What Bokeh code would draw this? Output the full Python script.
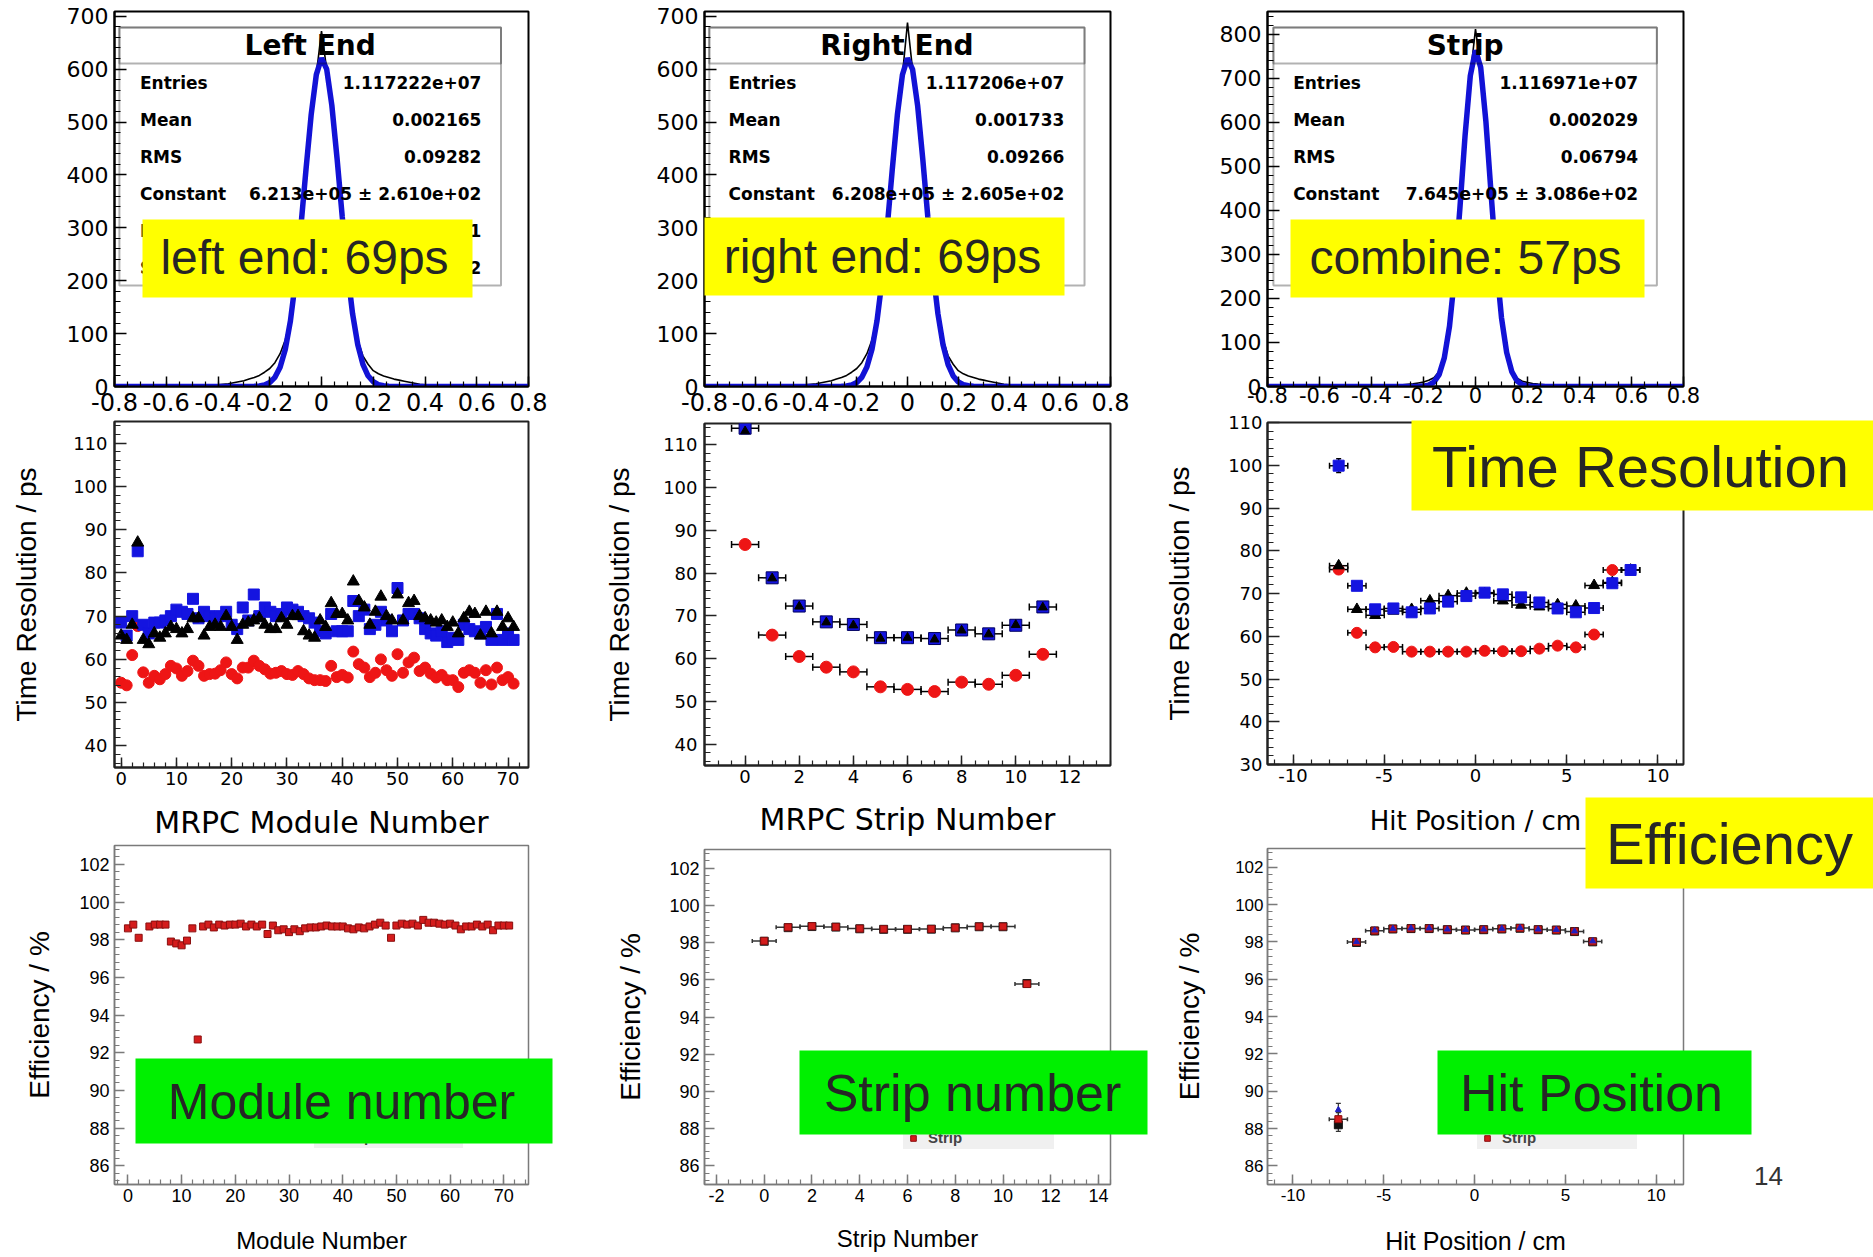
import numpy as np
from bokeh.plotting import figure
from bokeh.models import (Range1d, FixedTicker, SingleIntervalTicker, BoxAnnotation, Label,
                          ColumnDataSource, Whisker, TeeHead, Legend, LegendItem, GridBox)
from bokeh.layouts import row, column
from bokeh.embed import file_html
from bokeh.resources import INLINE

# ------------------------------------------------------------------ data
bin_centers = [round(-0.40 + 0.02 * i, 2) for i in range(41)]   # histogram bin centres (ns)

left_hist = [3, 4, 5, 7, 9, 11, 14, 17, 21, 27, 34, 45, 62, 88, 128, 200, 297, 408, 512, 590,
             672,
             600, 530, 430, 320, 220, 140, 88, 58, 42, 30, 24, 20, 17, 14, 12, 10, 8, 6, 4, 3]
left_fit = [0, 0, 0, 0, 0, 0, 0, 0.4, 1.1, 3.0, 7.5, 17.3, 36.4, 70.1, 124.3, 201.7, 300.3, 410, 513.4, 589.6,
            621,
            600, 531.5, 431.8, 321.8, 220, 137.9, 79.3, 41.8, 20.2, 8.9, 3.6, 1.4, 0.5, 0, 0, 0, 0, 0, 0, 0]
right_hist = [3, 4, 5, 7, 9, 11, 14, 17, 21, 27, 34, 45, 62, 88, 129, 201, 298, 409, 512, 589,
              688,
              599, 529, 429, 319, 219, 139, 89, 58, 42, 30, 24, 20, 17, 14, 12, 10, 8, 6, 4, 3]
right_fit = [0, 0, 0, 0, 0, 0, 0, 0.4, 1.1, 3.0, 7.6, 17.5, 36.7, 70.5, 124.8, 202.2, 300.8, 410.3, 513.5, 589.4,
             620.7,
             599.5, 530.8, 431, 321, 219.3, 137.3, 78.9, 41.5, 20, 8.8, 3.5, 1.4, 0.5, 0, 0, 0, 0, 0, 0, 0]
strip_hist = [1, 1, 1.5, 2, 2.5, 3, 4, 5, 6, 8, 10, 14, 20, 34, 70, 140, 254, 406, 572, 707,
              812,
              726, 603, 439, 282, 158, 80, 37, 19, 12, 9, 7, 5.5, 4.5, 3.5, 3, 2.5, 2, 1.5, 1, 1]
strip_fit = [0, 0, 0, 0, 0, 0, 0, 0, 0, 0, 0.9, 3.2, 10, 27, 65, 137, 252, 405, 571, 706,
             764,
             725, 602, 438, 280, 156, 77, 33, 12.4, 4, 1.2, 0.3, 0, 0, 0, 0, 0, 0, 0, 0, 0]

stat_titles = ["Left End", "Right End", "Strip"]
stat_names = ["Entries", "Mean", "RMS", "Constant", "Mean", "Sigma"]
stat_values = [
    ["1.117222e+07", "0.002165", "0.09282", "6.213e+05 \u00b1 2.610e+02", "0.001734 \u00b1 0.000021", "0.06612 \u00b1 0.00002"],
    ["1.117206e+07", "0.001733", "0.09266", "6.208e+05 \u00b1 2.605e+02", "0.001612 \u00b1 0.000021", "0.06598 \u00b1 0.00002"],
    ["1.116971e+07", "0.002029", "0.06794", "7.645e+05 \u00b1 3.086e+02", "0.001958 \u00b1 0.000017", "0.05521 \u00b1 0.00001"],
]

module_idx = list(range(72))
mod_t_red = [54.6, 54.0, 61.0, 67.7, 57.0, 54.6, 56.2, 55.4, 56.6, 58.5,
             57.9, 56.2, 57.3, 59.7, 58.5, 56.2, 56.6, 56.7, 57.5, 59.3,
             56.6, 55.6, 58.1, 58.1, 59.7, 58.5, 57.7, 56.7, 56.9, 57.3,
             56.6, 56.4, 57.3, 56.6, 55.6, 55.2, 55.2, 55.0, 58.5, 55.9,
             56.4, 55.8, 61.8, 58.9, 58.1, 55.9, 56.9, 60.0, 57.5, 56.2,
             61.2, 56.9, 59.3, 60.4, 57.3, 58.1, 56.7, 55.8, 56.4, 55.2,
             55.2, 53.6, 56.9, 57.5, 56.9, 54.6, 57.5, 54.2, 58.1, 55.2,
             55.9, 54.4]
mod_t_blue = [68.5, 65.5, 70.0, 85.0, 68.0, 66.0, 68.5, 68.5, 69.0, 70.0,
              71.5, 71.0, 70.5, 74.0, 69.5, 71.0, 70.0, 69.5, 70.0, 71.0,
              68.0, 67.0, 72.0, 69.0, 75.0, 70.0, 72.0, 71.0, 70.0, 70.5,
              72.0, 71.5, 71.0, 70.0, 69.5, 68.5, 66.5, 66.0, 70.5, 66.5,
              66.5, 66.5, 73.5, 70.0, 71.5, 67.0, 68.0, 71.0, 69.0, 66.5,
              76.5, 69.0, 70.5, 70.5, 69.5, 67.0, 66.0, 65.5, 66.5, 64.0,
              65.0, 64.5, 68.0, 67.0, 66.5, 66.0, 67.5, 64.5, 70.5, 64.5,
              66.0, 64.5]
mod_t_black = [65.5, 64.5, 68.0, 87.0, 64.5, 63.5, 66.0, 65.0, 66.0, 67.5,
               67.0, 66.0, 67.0, 69.5, 69.5, 65.5, 67.5, 68.0, 67.5, 70.0,
               67.5, 64.5, 68.0, 68.5, 69.0, 69.5, 68.0, 67.0, 67.0, 69.5,
               68.0, 70.0, 70.0, 66.5, 65.5, 65.0, 69.0, 67.5, 73.0, 70.5,
               70.5, 69.0, 78.0, 73.5, 72.0, 68.0, 71.0, 74.5, 70.0, 69.0,
               75.0, 69.0, 73.0, 73.5, 70.0, 69.5, 69.0, 68.5, 69.0, 67.5,
               68.5, 66.0, 69.5, 71.0, 70.5, 65.5, 71.0, 66.0, 71.0, 67.5,
               69.5, 67.5]

strip_idx = list(range(12))
strip_t_blue = [113.9, 78.9, 72.3, 68.6, 68.0, 64.9, 64.9, 64.7, 66.7, 65.8, 67.8, 72.1]
strip_t_black = [113.2, 78.8, 72.2, 68.5, 67.8, 64.7, 64.9, 64.5, 66.6, 65.7, 67.9, 72.0]
strip_t_red = [86.7, 65.5, 60.5, 58.0, 56.9, 53.4, 52.8, 52.3, 54.5, 54.0, 56.1, 61.0]

hit_pos = [-7.5, -6.5, -5.5, -4.5, -3.5, -2.5, -1.5, -0.5, 0.5, 1.5, 2.5, 3.5, 4.5, 5.5, 6.5, 7.5, 8.5]
hit_t_blue = [99.9, 71.8, 66.3, 66.5, 65.6, 66.5, 68.1, 69.4, 70.2, 69.8, 69.1, 67.9, 66.5, 65.6, 66.6, 72.4, 75.5]
hit_t_blue_err = [1.6, 0.6, 0.5, 0.5, 0.5, 0.5, 0.5, 0.5, 0.5, 0.5, 0.5, 0.5, 0.5, 0.5, 0.5, 0.6, 0.7]
hit_t_black = [76.5, 66.3, 64.9, 65.9, 66.3, 68.3, 69.5, 70.1, 70.0, 68.3, 67.3, 66.9, 67.4, 67.1, 71.9, 72.6, 75.5]
hit_t_red = [75.6, 60.8, 57.4, 57.5, 56.4, 56.4, 56.4, 56.4, 56.6, 56.5, 56.5, 57.1, 57.8, 57.4, 60.4, 75.5]

nan = float("nan")
mod_eff = [98.6, 98.8, 98.1, nan, 98.7, 98.8, 98.8, 98.8, 97.9, 97.8,
           97.7, 97.95, 98.6, 92.7, 98.7, 98.8, 98.65, 98.8, 98.75, 98.8,
           98.8, 98.85, 98.7, 98.8, 98.7, 98.8, 98.3, 98.75, 98.5, 98.55,
           98.4, 98.55, 98.45, 98.6, 98.65, 98.65, 98.7, 98.75, 98.7, 98.7,
           98.7, 98.6, 98.55, 98.65, 98.6, 98.7, 98.8, 98.9, 98.75, 98.1,
           98.75, 98.85, 98.8, 98.85, 98.75, 99.05, 98.9, 98.9, 98.85, 98.8,
           98.85, 98.75, 98.55, 98.7, 98.7, 98.8, 98.7, 98.8, 98.5, 98.75,
           98.75, 98.75]
strip_eff = [98.09, 98.82, 98.88, 98.84, 98.75, 98.72, 98.72, 98.73, 98.80, 98.86, 98.86, 95.77]
strip_eff_left = [98.07, 98.80, 98.86, 98.83, 98.74, 98.71, 98.71, 98.72, 98.79, 98.85, 98.85, 95.80]

hit_eff_pos = [-7.5, -6.5, -5.5, -4.5, -3.5, -2.5, -1.5, -0.5, 0.5, 1.5, 2.5, 3.5, 4.5, 5.5, 6.5]
hit_eff_strip = [88.5, 97.99, 98.60, 98.70, 98.72, 98.72, 98.66, 98.64, 98.66, 98.70, 98.74, 98.66, 98.64, 98.56, 98.02]
hit_eff_left = [88.2, 97.97, 98.58, 98.69, 98.71, 98.71, 98.65, 98.63, 98.65, 98.69, 98.73, 98.65, 98.63, 98.55, 98.00]
hit_eff_right = [89.0, 98.00, 98.62, 98.71, 98.73, 98.73, 98.67, 98.65, 98.67, 98.71, 98.75, 98.67, 98.65, 98.57, 98.04]
hit_eff_err = [0.35, 0.05, 0.05, 0.05, 0.05, 0.05, 0.05, 0.05, 0.05, 0.05, 0.05, 0.05, 0.05, 0.05, 0.05]

# slide call-out labels (text, colour, box left/right/top/bottom, text centre, size) in page pixels
callouts = [
    ("left end: 69ps", "#ffff00", (142, 472, 219, 297), (304, 257), "48px"),
    ("right end: 69ps", "#ffff00", (704, 1064, 217, 295), (882, 256), "48px"),
    ("combine: 57ps", "#ffff00", (1290, 1644, 219, 297), (1465, 257), "48px"),
    ("Time Resolution", "#ffff00", (1411, 1880, 420, 510), (1640, 466), "58px"),
    ("Efficiency", "#ffff00", (1585, 1880, 797, 888), (1729, 843), "58px"),
    ("Module number", "#00f000", (135, 552, 1058, 1143), (341, 1101), "50px"),
    ("Strip number", "#00f000", (799, 1147, 1050, 1134), (972, 1092), "52px"),
    ("Hit Position", "#00f000", (1437, 1751, 1050, 1134), (1591, 1092), "52px"),
]

# ------------------------------------------------------------------ styling constants
WIDE = "DejaVu Sans"
ARIAL = "Liberation Sans"
NARROW = "'Liberation Sans Narrow', 'Arial Narrow', 'Liberation Sans'"
BLUE = "#1414e0"
RED = "#ee1515"
LABEL_TXT = "#262626"
GREY = "#7a7a7a"


class G:
    """page geometry of one panel: canvas offset/size, frame edges (page px) and data ranges"""
    def __init__(self, ox, oy, W, H, fl, fr, ft, fb, xr, yr):
        self.ox, self.oy, self.W, self.H = ox, oy, W, H
        self.fl, self.fr, self.ft, self.fb = fl, fr, ft, fb
        self.xr, self.yr = xr, yr

    def x(self, px):
        return self.xr[0] + (px - self.fl) / (self.fr - self.fl) * (self.xr[1] - self.xr[0])

    def y(self, py):
        return self.yr[1] - (py - self.ft) / (self.fb - self.ft) * (self.yr[1] - self.yr[0])


def mkfig(g):
    p = figure(width=g.W, height=g.H, x_range=Range1d(*g.xr), y_range=Range1d(*g.yr),
               min_border_left=int(round(g.fl - g.ox)), min_border_right=int(round(g.ox + g.W - g.fr)),
               min_border_top=int(round(g.ft - g.oy)), min_border_bottom=int(round(g.oy + g.H - g.fb)),
               output_backend="svg", toolbar_location=None,
               background_fill_color="white", border_fill_color="white")
    p.xgrid.visible = False
    p.ygrid.visible = False
    return p


def style(p, tick_font, tick_size, color, olw, xt, yt, xs1, ys1):
    p.outline_line_color = color
    p.outline_line_width = olw
    p.outline_line_alpha = 1
    for ax, (mj, mn), s1 in ((p.xaxis[0], xt, xs1), (p.yaxis[0], yt, ys1)):
        ax.axis_line_color = color
        ax.axis_line_width = olw
        ax.major_tick_line_color = color
        ax.minor_tick_line_color = color
        ax.major_tick_line_width = 1.5
        ax.minor_tick_line_width = 1.2
        ax.major_tick_in = mj
        ax.major_tick_out = 0
        ax.minor_tick_in = mn
        ax.minor_tick_out = 0
        ax.major_label_text_font = tick_font
        ax.major_label_text_font_size = tick_size
        ax.major_label_text_color = "black"
        ax.major_label_standoff = s1
        ax.axis_label_text_font_style = "normal"
        ax.axis_label_text_color = "black"


def set_title(ax, text, font, size, standoff):
    ax.axis_label = text
    ax.axis_label_text_font = font
    ax.axis_label_text_font_size = size
    ax.axis_label_standoff = standoff


# ------------------------------------------------------------------ top row: time difference histograms
top_geo = [
    G(0, 0, 575, 420, 113, 535, 11, 386, (-0.8, 0.8), (0, 709)),
    G(575, 0, 580, 420, 689, 1111, 11, 386, (-0.8, 0.8), (0, 709)),
    G(1155, 0, 718, 410, 1264, 1686, 11, 386, (-0.8, 0.8), (0, 852)),
]
top_stat_box = [(118, 507), (694, 1084), (1270, 1659)]
top_stat_txt = [(139, 487), (714, 1063), (1290, 1640)]
hists = [left_hist, right_hist, strip_hist]
fits = [left_fit, right_fit, strip_fit]
top_xs1 = [6, 6, 0]
top_xfont = ["24px", "24px", "21px"]

x_major = [-0.8, -0.6, -0.4, -0.2, 0, 0.2, 0.4, 0.6, 0.8]
x_minor = [round(-0.8 + 0.05 * i, 2) for i in range(33)]

top_figs = []
for i in range(3):
    g = top_geo[i]
    p = mkfig(g)
    xs = [-0.8] + bin_centers + [0.8]
    p.line(xs, [0] + hists[i] + [0], line_color="black", line_width=1.6)
    p.line(xs, [0] + fits[i] + [0], line_color="#1212d6", line_width=5.5)
    style(p, WIDE, top_xfont[i], "black", 2, (10, 5), (12, 6), top_xs1[i], 6)
    p.xaxis[0].ticker = FixedTicker(ticks=x_major, minor_ticks=x_minor)
    p.xaxis[0].major_label_overrides = {t: ("%g" % t) for t in x_major}
    p.yaxis[0].ticker = SingleIntervalTicker(interval=100, num_minor_ticks=5)
    p.yaxis[0].major_label_text_font_size = "22px"
    # stat box
    bl, br = top_stat_box[i]
    p.add_layout(BoxAnnotation(left=g.x(bl), right=g.x(br), top=g.y(27), bottom=g.y(285),
                               fill_alpha=0, line_color="black", line_width=2))
    p.add_layout(BoxAnnotation(left=g.x(bl), right=g.x(br), top=g.y(27), bottom=g.y(63),
                               fill_alpha=0, line_color="black", line_width=2))
    p.add_layout(Label(x=g.x((bl + br) / 2), y=g.y(45), text=stat_titles[i], text_align="center",
                       text_baseline="middle", text_font=WIDE, text_font_style="bold",
                       text_font_size="28px", text_color="black"))
    lx, rx = top_stat_txt[i]
    for k, yy in enumerate([82, 119, 156, 193, 230, 267]):
        p.add_layout(Label(x=g.x(lx), y=g.y(yy), text=stat_names[k], text_align="left",
                           text_baseline="middle", text_font=WIDE, text_font_style="bold",
                           text_font_size="17px", text_color="black"))
        p.add_layout(Label(x=g.x(rx), y=g.y(yy), text=stat_values[i][k], text_align="right",
                           text_baseline="middle", text_font=WIDE, text_font_style="bold",
                           text_font_size="17px", text_color="black"))
    top_figs.append(p)

# ------------------------------------------------------------------ middle row: time resolution
def hwhisk(p, xs, ys, color="black", head=7, width=1.5):
    src = ColumnDataSource(dict(y=ys, lo=[v - 0.5 for v in xs], hi=[v + 0.5 for v in xs]))
    p.add_layout(Whisker(source=src, base="y", lower="lo", upper="hi", dimension="width",
                         line_color=color, line_width=width,
                         upper_head=TeeHead(size=head, line_color=color, line_width=width),
                         lower_head=TeeHead(size=head, line_color=color, line_width=width)))


# panel 4: module number
g4 = G(0, 420, 575, 424, 111, 544, 421, 767, (-1.2, 73.7), (35, 115))
p4 = mkfig(g4)
p4.scatter(module_idx, mod_t_red, marker="circle", size=11, fill_color=RED, line_color=RED)
p4.scatter(module_idx, mod_t_blue, marker="square", size=11, fill_color=BLUE, line_color=BLUE)
p4.scatter(module_idx, mod_t_black, marker="triangle", size=12, fill_color="black", line_color="black")
style(p4, WIDE, "18px", "#222222", 2, (10, 5), (12, 6), 4, 7)
p4.xaxis[0].ticker = SingleIntervalTicker(interval=10, num_minor_ticks=5)
p4.yaxis[0].ticker = SingleIntervalTicker(interval=10, num_minor_ticks=5)
set_title(p4.xaxis[0], "MRPC Module Number", WIDE, "30px", 17)
set_title(p4.yaxis[0], "Time Resolution / ps", ARIAL, "28px", 28)

# panel 5: strip number
g5 = G(575, 420, 580, 422, 694, 1110, 423, 765, (-1.5, 13.5), (35, 115))
p5 = mkfig(g5)
hwhisk(p5, strip_idx, strip_t_blue)
hwhisk(p5, strip_idx, strip_t_red)
p5.scatter(strip_idx, strip_t_red, marker="circle", size=12, fill_color=RED, line_color=RED)
p5.scatter(strip_idx, strip_t_blue, marker="square", size=12, fill_color=BLUE, line_color="#000060")
p5.scatter(strip_idx, strip_t_black, marker="triangle", size=9, fill_color="black", line_color="black")
style(p5, WIDE, "18px", "#222222", 2, (10, 5), (12, 6), 4, 7)
p5.xaxis[0].ticker = SingleIntervalTicker(interval=2, num_minor_ticks=4)
p5.yaxis[0].ticker = SingleIntervalTicker(interval=10, num_minor_ticks=5)
set_title(p5.xaxis[0], "MRPC Strip Number", WIDE, "30px", 16)
set_title(p5.yaxis[0], "Time Resolution / ps", ARIAL, "28px", 25)

# panel 6: hit position
g6 = G(1155, 410, 718, 435, 1261, 1683, 422, 764, (-11.4, 11.4), (30, 110))
p6 = mkfig(g6)
hwhisk(p6, hit_pos, hit_t_blue, head=6)
hwhisk(p6, hit_pos, hit_t_black, head=6)
hwhisk(p6, hit_pos[:16], hit_t_red, head=6)
vsrc = ColumnDataSource(dict(x=hit_pos, lo=[a - e for a, e in zip(hit_t_blue, hit_t_blue_err)],
                             hi=[a + e for a, e in zip(hit_t_blue, hit_t_blue_err)]))
p6.add_layout(Whisker(source=vsrc, base="x", lower="lo", upper="hi", dimension="height",
                      line_color="black", line_width=1.5,
                      upper_head=TeeHead(size=5, line_color="black", line_width=1.5),
                      lower_head=TeeHead(size=5, line_color="black", line_width=1.5)))
p6.scatter(hit_pos[:16], hit_t_red, marker="circle", size=11, fill_color=RED, line_color=RED)
p6.scatter(hit_pos, hit_t_black, marker="triangle", size=11, fill_color="black", line_color="black")
p6.scatter(hit_pos, hit_t_blue, marker="square", size=11, fill_color=BLUE, line_color=BLUE)
style(p6, WIDE, "18px", "#222222", 2, (10, 5), (12, 6), 4, 5)
p6.xaxis[0].ticker = SingleIntervalTicker(interval=5, num_minor_ticks=5)
p6.yaxis[0].ticker = SingleIntervalTicker(interval=10, num_minor_ticks=5)
p6.xaxis[0].major_label_overrides = {-10: "-10", -5: "-5"}
set_title(p6.xaxis[0], "Hit Position / cm", WIDE, "26px", 21)
set_title(p6.yaxis[0], "Time Resolution / ps", ARIAL, "28px", 30)

# ------------------------------------------------------------------ bottom row: efficiency
def strip_legend(p, r, vx, vy, lw):
    leg = Legend(items=[LegendItem(label="Strip", renderers=[r])], location=(vx, vy),
                 background_fill_color="#f0f0f0", background_fill_alpha=1, border_line_alpha=0,
                 padding=3, spacing=0, margin=0, label_height=16, glyph_height=16, glyph_width=14,
                 label_width=lw, label_standoff=8, label_text_font=NARROW,
                 label_text_font_size="15px", label_text_font_style="bold")
    p.add_layout(leg)


# panel 7: module number
g7 = G(0, 844, 575, 413, 114, 528, 845, 1184, (-2.5, 74.6), (85, 103))
p7 = mkfig(g7)
r7 = p7.scatter(module_idx, mod_eff, marker="square", size=7, fill_color="#d41c1c", line_color="#8a0f0f")
style(p7, NARROW, "18px", GREY, 1.5, (10, 5), (10, 5), 4, 5)
p7.xaxis[0].ticker = SingleIntervalTicker(interval=10, num_minor_ticks=5)
p7.yaxis[0].ticker = SingleIntervalTicker(interval=2, num_minor_ticks=5)
set_title(p7.xaxis[0], "Module Number", ARIAL, "24px", 22)
set_title(p7.yaxis[0], "Efficiency / %", ARIAL, "28px", 21)
strip_legend(p7, r7, 200, 36, 121)

# panel 8: strip number
g8 = G(575, 842, 580, 415, 704, 1111, 849, 1184, (-2.5, 14.5), (85, 103))
p8 = mkfig(g8)
hwhisk(p8, strip_idx, strip_eff, color="#333333", head=4, width=1.5)
p8.scatter(strip_idx, strip_eff_left, marker="square", size=8, fill_color="#222222", line_color="#222222")
r8 = p8.scatter(strip_idx, strip_eff, marker="square", size=7, fill_color="#d41c1c", line_color="#8a0f0f")
style(p8, NARROW, "18px", GREY, 1.5, (10, 5), (10, 5), 4, 5)
p8.xaxis[0].ticker = SingleIntervalTicker(interval=2, num_minor_ticks=4)
p8.yaxis[0].ticker = SingleIntervalTicker(interval=2, num_minor_ticks=5)
p8.xaxis[0].major_label_overrides = {-2: "-2"}
set_title(p8.xaxis[0], "Strip Number", ARIAL, "24px", 20)
set_title(p8.yaxis[0], "Efficiency / %", ARIAL, "28px", 20)
strip_legend(p8, r8, 199, 35, 123)

# panel 9: hit position
g9 = G(1155, 845, 718, 412, 1267, 1699, 848, 1184, (-11.4, 11.5), (85, 103))
p9 = mkfig(g9)
hwhisk(p9, hit_eff_pos, hit_eff_strip, color="#333333", head=4, width=1.5)
for series in (hit_eff_left, hit_eff_strip, hit_eff_right):
    vs = ColumnDataSource(dict(x=hit_eff_pos, lo=[a - e for a, e in zip(series, hit_eff_err)],
                               hi=[a + e for a, e in zip(series, hit_eff_err)]))
    p9.add_layout(Whisker(source=vs, base="x", lower="lo", upper="hi", dimension="height",
                          line_color="#333333", line_width=1.2,
                          upper_head=TeeHead(size=5, line_color="#333333", line_width=1.2),
                          lower_head=TeeHead(size=5, line_color="#333333", line_width=1.2)))
p9.scatter(hit_eff_pos, hit_eff_left, marker="square", size=8, fill_color="#111111", line_color="#111111")
r9 = p9.scatter(hit_eff_pos, hit_eff_strip, marker="square", size=7, fill_color="#d41c1c", line_color="#8a0f0f")
p9.scatter(hit_eff_pos, hit_eff_right, marker="triangle", size=6, fill_color="#2020c0", line_color="#2020c0")
style(p9, ARIAL, "17px", GREY, 1.5, (10, 5), (10, 5), 4, 4)
p9.xaxis[0].ticker = SingleIntervalTicker(interval=5, num_minor_ticks=5)
p9.yaxis[0].ticker = SingleIntervalTicker(interval=2, num_minor_ticks=5)
p9.xaxis[0].major_label_overrides = {-10: "-10", -5: "-5"}
set_title(p9.xaxis[0], "Hit Position / cm", ARIAL, "25px", 23)
set_title(p9.yaxis[0], "Efficiency / %", ARIAL, "28px", 27)
strip_legend(p9, r9, 210, 35, 132)

grid = row(column(top_figs[0], p4, p7), column(top_figs[1], p5, p8), column(top_figs[2], p6, p9))

# ------------------------------------------------------------------ transparent slide overlay (call-outs)
ov = figure(width=1873, height=1257, x_range=Range1d(0, 1873), y_range=Range1d(1257, 0),
            x_axis_type=None, y_axis_type=None, toolbar_location=None, output_backend="svg",
            min_border=0, min_border_left=0, min_border_right=0, min_border_top=0, min_border_bottom=0,
            background_fill_alpha=0, border_fill_alpha=0, outline_line_alpha=0)
ov.xgrid.visible = False
ov.ygrid.visible = False
for text, color, (l, r, t, b), (tx, ty), size in callouts:
    ov.add_layout(BoxAnnotation(left=l, right=r, top=t, bottom=b, fill_color=color, fill_alpha=1,
                                line_alpha=0))
    ov.add_layout(Label(x=tx, y=ty, text=text, text_align="center", text_baseline="middle",
                        text_font=ARIAL, text_font_size=size, text_color=LABEL_TXT))
ov.add_layout(Label(x=1768, y=1175, text="14", text_align="center", text_baseline="middle",
                    text_font=ARIAL, text_font_size="26px", text_color="#333333"))

layout = GridBox(children=[(grid, 0, 0), (ov, 0, 0)])

with open("out.html", "w", encoding="utf-8") as f:
    f.write(file_html(layout, INLINE, title="MRPC time resolution and efficiency"))
